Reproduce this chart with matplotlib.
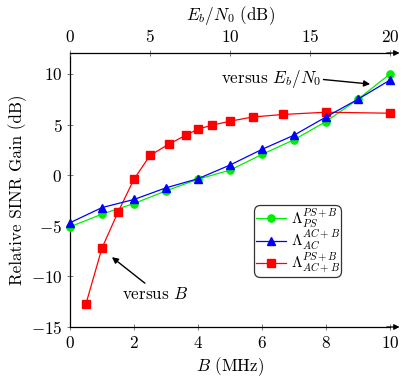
import matplotlib
matplotlib.use("Agg")
import matplotlib.pyplot as plt

plt.rcParams['font.family'] = 'serif'
plt.rcParams['font.serif'] = ['cmr10']
plt.rcParams['mathtext.fontset'] = 'cm'
plt.rcParams['axes.formatter.use_mathtext'] = True
plt.rcParams['font.size'] = 12.3

# Data
B_uniform = [0, 1, 2, 3, 4, 5, 6, 7, 8, 9, 10]
ps_gain = [-5.1, -3.85, -2.8, -1.55, -0.4, 0.5, 2.05, 3.5, 5.3, 7.5, 10.0]
ac_gain = [-4.7, -3.2, -2.4, -1.25, -0.35, 1.0, 2.55, 3.95, 5.75, 7.5, 9.4]
B_red = [0.5, 1.0, 1.5, 2.0, 2.5, 3.08, 3.64, 4.0, 4.44, 5.0, 5.71, 6.67, 8.0, 10.0]
acb_gain = [-12.7, -7.2, -3.65, -0.4, 1.95, 3.05, 3.98, 4.55, 4.94, 5.33, 5.75, 6.0, 6.22, 6.12]

bottom_ticks = [0, 2, 4, 6, 8, 10]
top_ticks = [0, 5, 10, 15, 20]
y_ticks = [-15, -10, -5, 0, 5, 10]

fig = plt.figure(figsize=(4.07, 3.83), dpi=100)
ax = fig.add_axes([70/407, 1-327/383, 320/407, 274/383])

ax.plot(B_uniform, ps_gain, color='#00ee00', lw=0.9, marker='o', ms=5.2,
        label=r'$\Lambda_{PS}^{PS+B}$', clip_on=False, zorder=3)
ax.plot(B_uniform, ac_gain, color='#0000ff', lw=0.9, marker='^', ms=5.5,
        label=r'$\Lambda_{AC}^{AC+B}$', clip_on=False, zorder=4)
ax.plot(B_red, acb_gain, color='#ff0000', lw=0.9, marker='s', ms=5.2,
        label=r'$\Lambda_{AC+B}^{PS+B}$', clip_on=False, zorder=3)

ax.set_xlim(0, 10)
ax.set_ylim(-15, 12.07)
ax.set_xticks(bottom_ticks)
ax.set_yticks(y_ticks)
ax.set_xlabel(r'$B$ (MHz)', labelpad=3)
ax.set_ylabel('Relative SINR Gain (dB)', labelpad=3)

for s in ['right', 'top']:
    ax.spines[s].set_visible(False)
ax.spines['left'].set_linewidth(0.9)
ax.spines['bottom'].set_linewidth(0.9)
ax.tick_params(direction='inout', length=5, width=0.6, color='#666666', pad=3)

ax2 = ax.twiny()
ax2.set_xlim(0, 20)
ax2.set_xticks(top_ticks)
ax2.set_xlabel(r'$E_b/N_0$ (dB)', labelpad=6)
for s in ['right', 'left', 'bottom']:
    ax2.spines[s].set_visible(False)
ax2.spines['top'].set_linewidth(0.9)
ax2.tick_params(direction='inout', length=5, width=0.6, color='#666666', pad=3)

# arrowheads at axis ends
for yy in (0, 1):
    ax.annotate('', xy=(1.03, yy), xytext=(0.99, yy), xycoords='axes fraction',
                arrowprops=dict(arrowstyle='-|>', color='black', lw=0.9,
                                shrinkA=0, shrinkB=0, mutation_scale=8))

leg = ax.legend(loc='upper left', bbox_to_anchor=((254-70)/320, 1-(205-53)/274),
                frameon=True, fancybox=True, edgecolor='black', fontsize=11,
                handlelength=2.0, handletextpad=0.3, borderpad=0.1,
                labelspacing=-0.1, borderaxespad=0)
leg.get_frame().set_linewidth(0.9)
leg.get_frame().set_boxstyle('round,pad=0.0,rounding_size=0.4')
leg.set_zorder(10)

ax.annotate('', xy=(1.31, -8.1), xytext=(2.34, -10.67),
            arrowprops=dict(arrowstyle='-|>', color='black', lw=1.0,
                            shrinkA=0, shrinkB=0, mutation_scale=9))
ax.text(2.66, -11.7, r'versus $B$', ha='center', va='center')

ax.annotate('', xy=(9.38, 9.0), xytext=(7.92, 9.45),
            arrowprops=dict(arrowstyle='-|>', color='black', lw=1.0,
                            shrinkA=0, shrinkB=0, mutation_scale=9))
ax.text(7.85, 9.5, r'versus $E_b/N_0$', ha='right', va='center')

fig.savefig('out.png', dpi=100)
